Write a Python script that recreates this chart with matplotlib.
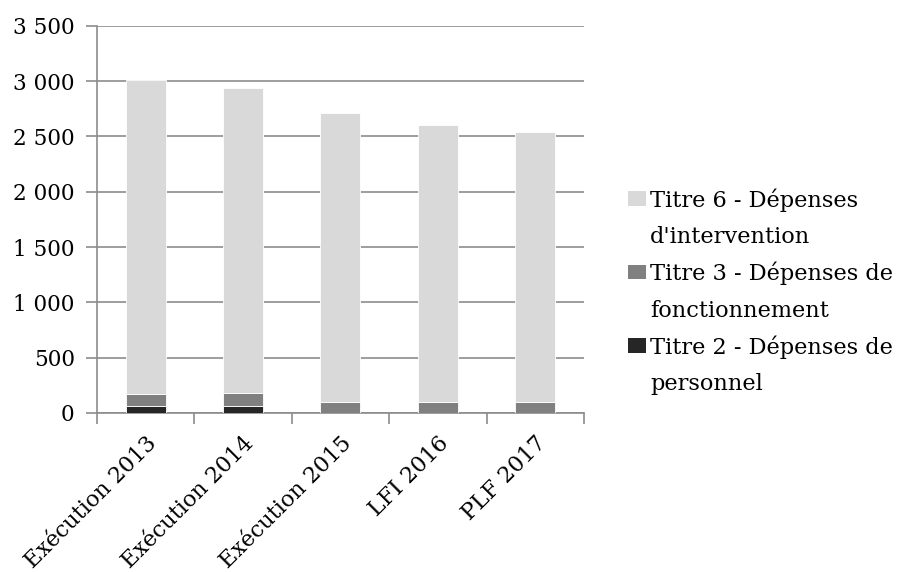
import matplotlib.pyplot as plt
import numpy as np
from matplotlib.legend_handler import HandlerPatch
from matplotlib.patches import Rectangle, Patch

plt.rcParams['font.family'] = ['DejaVu Serif']

categories = ["Exécution 2013", "Exécution 2014", "Exécution 2015", "LFI 2016", "PLF 2017"]
titre2 = [66, 63, 0, 0, 0]
titre3 = [106, 118, 96, 99, 96]
titre6 = [2835, 2757, 2616, 2508, 2445]

labels = ["Titre 6 - Dépenses\nd'intervention",
          "Titre 3 - Dépenses de\nfonctionnement",
          "Titre 2 - Dépenses de\npersonnel"]
colors = ["#d9d9d9", "#808080", "#262626"]

fig = plt.figure(figsize=(8.97, 5.72), dpi=100)
ax = fig.add_axes([0.108, 0.278, 0.543, 0.677])

x = np.arange(len(categories))
w = 0.41
ax.bar(x, titre2, w, color=colors[2], edgecolor="white", linewidth=0.6, zorder=3)
ax.bar(x, titre3, w, bottom=titre2, color=colors[1], edgecolor="white", linewidth=0.6, zorder=3)
bottom6 = np.array(titre2) + np.array(titre3)
ax.bar(x, titre6, w, bottom=bottom6, color=colors[0], edgecolor="white", linewidth=0.6, zorder=3)

ax.set_ylim(0, 3500)
ax.set_xlim(-0.5, len(categories) - 0.5)
yt = np.arange(0, 3501, 500)
ax.set_yticks(yt)
ax.set_yticklabels([f"{v:,}".replace(",", " ") for v in yt], fontsize=15.5)
ax.yaxis.grid(True, color="#8c8c8c", linewidth=1.2, zorder=0)

ax.set_xticks(x)
ax.set_xticklabels(categories, rotation=45, ha="right", rotation_mode="anchor", fontsize=16)
ax.tick_params(axis="x", length=0, pad=14)
ax.set_xticks(np.arange(-0.5, len(categories)), minor=True)
ax.tick_params(axis="x", which="minor", length=8, color="#8c8c8c", width=1.2)
ax.tick_params(axis="y", length=8, color="#8c8c8c", width=1.2, pad=8)

for s in ["top", "right"]:
    ax.spines[s].set_visible(False)
for s in ["left", "bottom"]:
    ax.spines[s].set_color("#8c8c8c")
    ax.spines[s].set_linewidth(1.2)


# square handle lined up with the first line of each label
def top_square(legend, orig_handle, xdescent, ydescent, width, height, fontsize):
    return Rectangle((-xdescent, -ydescent + 14.5), width, height)


handles = [Patch(facecolor=colors[0]), Patch(facecolor=colors[1]), Patch(facecolor=colors[2])]
leg = fig.legend(handles, labels, loc="center left", bbox_to_anchor=(0.677, 0.49),
                 frameon=False, fontsize=16.2, handlelength=0.8, handleheight=0.62,
                 handletextpad=0.2, labelspacing=0.6,
                 handler_map={Patch: HandlerPatch(patch_func=top_square)})
for t in leg.get_texts():
    t.set_linespacing(1.85)

fig.savefig("out.png", dpi=100)
